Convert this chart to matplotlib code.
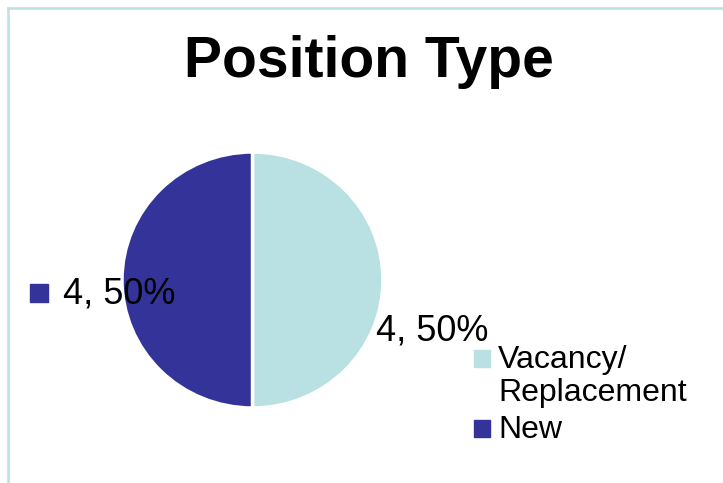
import matplotlib
matplotlib.use('Agg')
import matplotlib.pyplot as plt
from matplotlib.patches import Rectangle
from matplotlib.lines import Line2D

plt.rcParams['font.family'] = ['Liberation Sans', 'DejaVu Sans']

# data
categories = ['Vacancy/\nReplacement', 'New']
counts = [4, 4]
colors = ['#B9E0E3', '#333399']
title = 'Position Type'

W, H = 723, 483
fig = plt.figure(figsize=(W / 100, H / 100), dpi=100)


def fx(px):
    return px / W


def fy(py):
    # pixel row from top -> figure fraction
    return 1 - py / H


# light frame along left and top edge
frame_col = '#BCE0E4'
fig.add_artist(Line2D([fx(8), fx(8)], [0, fy(8)], color=frame_col, lw=1.8, transform=fig.transFigure))
fig.add_artist(Line2D([fx(8), 1], [fy(8), fy(8)], color=frame_col, lw=1.8, transform=fig.transFigure))

fig.text(fx(369), fy(62), title, ha='center', va='center', fontsize=41, fontweight='bold')

# pie axes: spans x 122..383, y 152..408 px (slightly wider than tall, like the original)
left, right, top, bottom = 122, 383, 152, 408
ax = fig.add_axes([fx(left), fy(bottom), (right - left) / W, (bottom - top) / H])
wedges, _ = ax.pie(counts, colors=colors, startangle=90, counterclock=False,
                   wedgeprops=dict(edgecolor='white', linewidth=2.5))
ax.set_xlim(-1, 1)
ax.set_ylim(-1, 1)
ax.set_aspect('auto')
ax.axis('off')

total = sum(counts)
labels = ['%d, %d%%' % (c, round(c * 100 / total)) for c in counts]

# data labels
fig.text(fx(376), fy(331), labels[0], ha='left', va='center', fontsize=26)
fig.text(fx(63), fy(294), labels[1], ha='left', va='center', fontsize=26)
fig.add_artist(Rectangle((fx(30), fy(302)), 18 / W, 18 / H, color=colors[1],
                         transform=fig.transFigure))

# legend (drawn by hand so the keys sit on the first text line)
key_tops = [350, 420]
for lab, col, top_px in zip(categories, colors, key_tops):
    fig.add_artist(Rectangle((fx(474), fy(top_px + 17)), 16 / W, 17 / H, color=col,
                             transform=fig.transFigure))
    for i, line in enumerate(lab.split('\n')):
        fig.text(fx(498), fy(top_px + 18 + 33 * i), line, ha='left', va='baseline', fontsize=23)

fig.savefig('out.png', dpi=100)
